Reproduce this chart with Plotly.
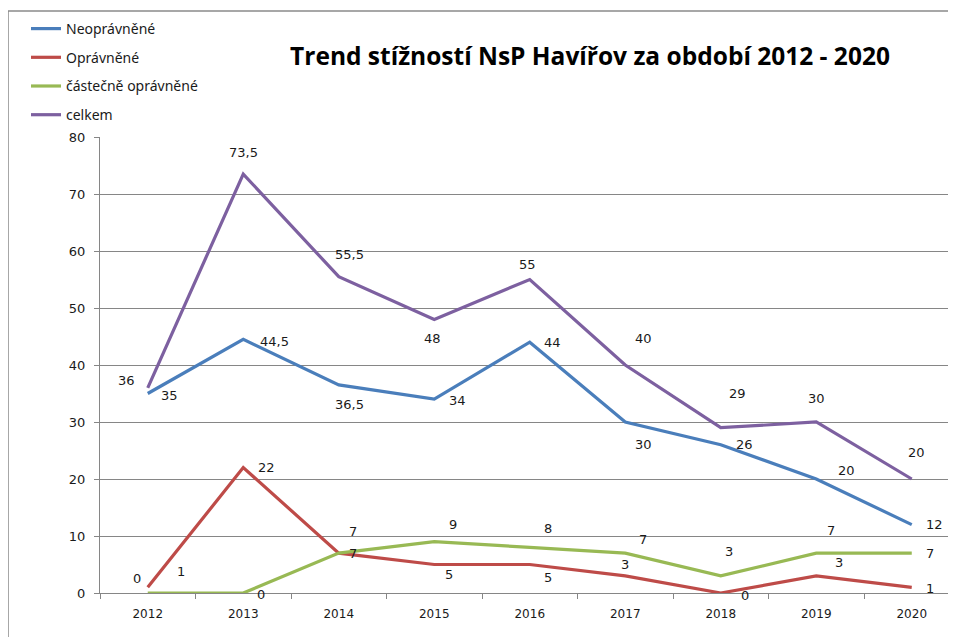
import plotly.graph_objects as go

years = ["2012", "2013", "2014", "2015", "2016", "2017", "2018", "2019", "2020"]
neopravnene = [35, 44.5, 36.5, 34, 44, 30, 26, 20, 12]
opravnene = [1, 22, 7, 5, 5, 3, 0, 3, 1]
castecne = [0, 0, 7, 9, 8, 7, 3, 7, 7]
celkem = [36, 73.5, 55.5, 48, 55, 40, 29, 30, 20]

series = [
    ("Neoprávněné", neopravnene, "#4A7EBB"),
    ("Oprávněné", opravnene, "#BE4B48"),
    ("částečně oprávněné", castecne, "#98B954"),
    ("celkem", celkem, "#7D60A0"),
]

# label offsets in pixels (dx right, dy down) as placed in the original chart
label_offsets = {
    "Neoprávněné": [(22, 2), (31, 2), (11, 20), (23, 1), (23, 0), (18, 22), (24, 0), (30, -9), (23, 0)],
    "Oprávněné": [(33, -16), (23, 0), (14, 0), (15, 10), (18, 13), (0, -11), (24, 2), (23, -13), (18, 1)],
    "částečně oprávněné": [(-11, -15), (18, 1), (14, -22), (19, -17), (18, -19), (18, -14), (8, -24), (15, -23), (18, 0)],
    "celkem": [(-21, -7), (0, -22), (11, -22), (-2, 19), (-2, -15), (18, -27), (17, -34), (0, -24), (5, -27)],
}

def fmt(v):
    return ("%g" % v).replace(".", ",")

# page body has an 8px margin; lay out in window pixels minus that offset
O = 8
W, H = 956 - O, 637 - O
L, T, B = 100 - O, 137 - O, 637 - 593
pw = W - L
ph = H - T - B
xmax = -0.5 + pw / 95.5

xidx = list(range(len(years)))

fig = go.Figure()
annotations = []
for name, vals, color in series:
    fig.add_trace(go.Scatter(
        x=xidx, y=vals, name=name, mode="lines",
        line=dict(color=color, width=3.2),
        legendgroup=name,
    ))
    for i, (v, (dx, dy)) in enumerate(zip(vals, label_offsets[name])):
        annotations.append(dict(
            x=i, y=v, xref="x", yref="y", text=fmt(v), showarrow=False,
            xshift=dx, yshift=-dy, xanchor="center", yanchor="middle",
            font=dict(family="DejaVu Sans", size=13, color="#1a1a1a"),
        ))

fig.update_layout(
    width=W, height=H,
    margin=dict(l=L, r=0, t=T, b=B, pad=0),
    paper_bgcolor="white", plot_bgcolor="white",
    title=dict(
        text="<b>Trend stížností NsP Havířov za období 2012 - 2020</b>",
        x=(590 - O) / W, y=1 - (56 - O) / H, xanchor="center", yanchor="middle",
        xref="container", yref="container",
        font=dict(family="Open Sans", size=24.5, color="black"),
    ),
    showlegend=True,
    legend=dict(
        x=(26 - O - L) / pw, xanchor="left",
        y=(H - B - (13 - O)) / ph, yanchor="top",
        bgcolor="rgba(0,0,0,0)",
        font=dict(family="Noto Sans", size=14, color="#1a1a1a"),
        tracegroupgap=7.5,
        traceorder="grouped",
    ),
    xaxis=dict(
        type="linear", range=[-0.5, xmax],
        tickmode="array", tickvals=xidx, ticktext=years,
        showgrid=False, showline=True, linecolor="#868686", linewidth=1,
        ticks="outside", ticklen=10, tickcolor="rgba(0,0,0,0)",
        minor=dict(ticks="outside", ticklen=5, tickcolor="#868686",
                   tick0=0.5, dtick=1, showgrid=False),
        tickfont=dict(family="DejaVu Sans", size=12, color="#1a1a1a"),
        zeroline=False,
    ),
    yaxis=dict(
        range=[0, 80], dtick=10, tick0=0,
        showgrid=True, gridcolor="#868686", gridwidth=1,
        showline=True, linecolor="#868686", linewidth=1,
        ticks="outside", ticklen=5, tickcolor="#868686",
        ticklabelstandoff=6,
        tickfont=dict(family="DejaVu Sans", size=13, color="#1a1a1a"),
        zeroline=False,
    ),
    annotations=annotations,
    shapes=[dict(
        type="rect", xref="paper", yref="paper",
        x0=(8 - O - L) / pw, x1=1.05, y0=-0.2, y1=(H - B - (11 - O)) / ph,
        line=dict(color="#8a8a8a", width=1.5), fillcolor="rgba(0,0,0,0)",
        layer="below",
    )],
)

fig.write_html("out.html")
